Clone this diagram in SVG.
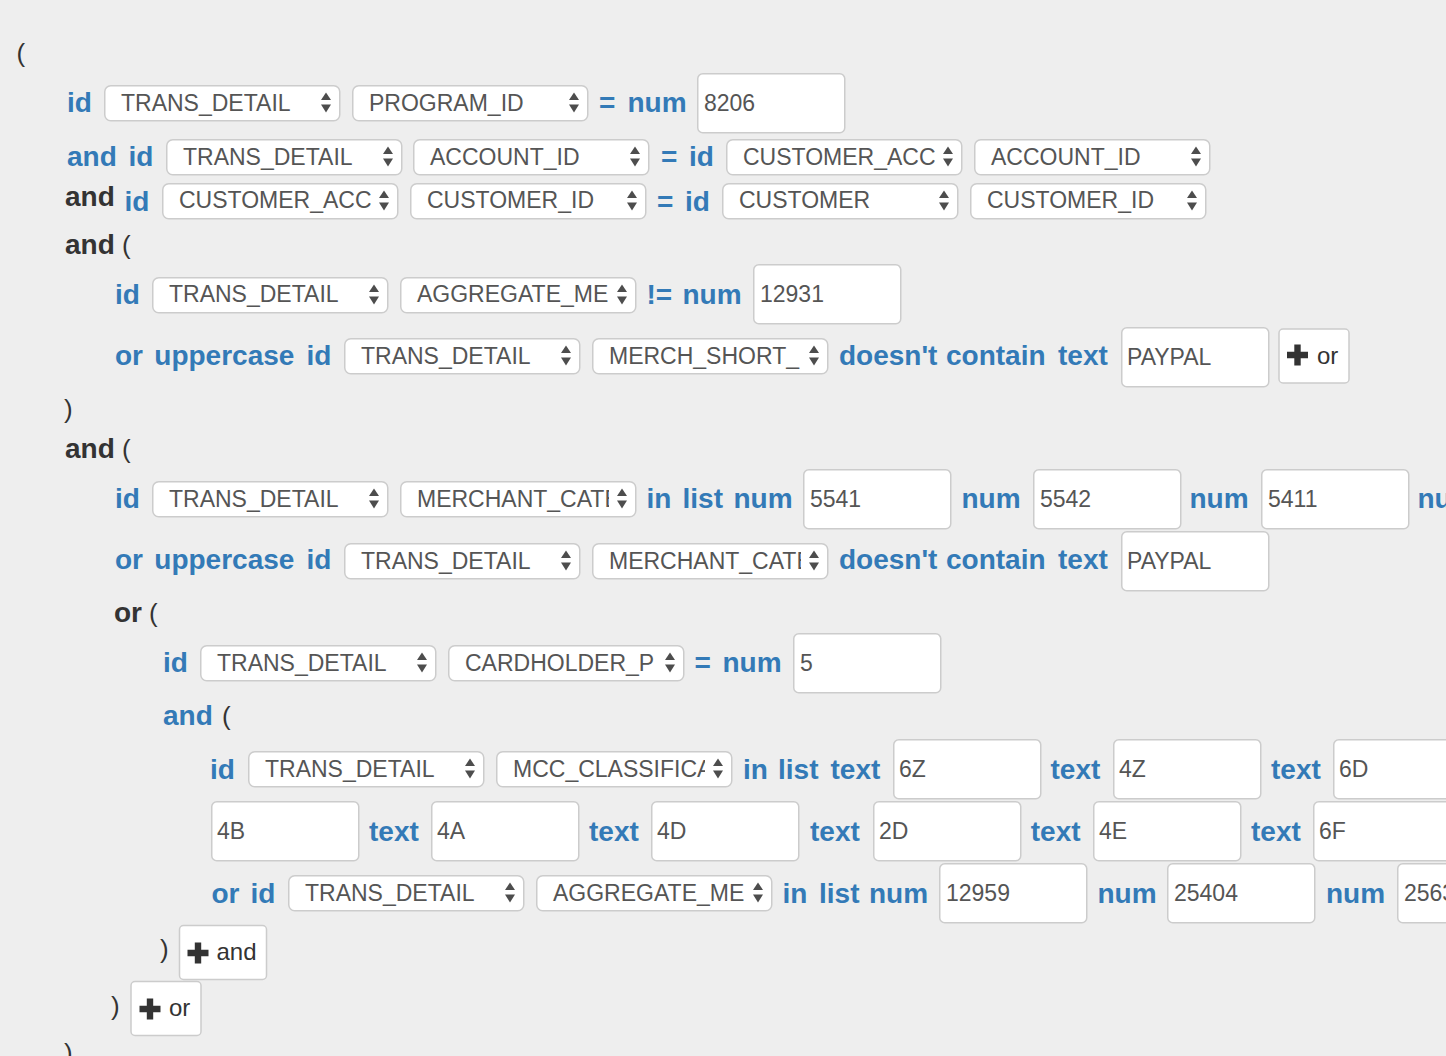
<svg xmlns="http://www.w3.org/2000/svg" xmlns:xlink="http://www.w3.org/1999/xlink" width="1446" height="1056" viewBox="0 0 1446 1056">
<style>
text{font-family:"Liberation Sans",Arial,Helvetica,sans-serif}
.lb{font-weight:bold;font-size:28px;fill:#337ab7}
.dk{font-weight:bold;font-size:28px;fill:#333}
.pr{font-size:26px;fill:#333}
.st{font-size:23px;fill:#555}
.bt{font-size:24px;fill:#333}
.box{fill:#fff;stroke:#ccc;stroke-width:1.5}
.arr{fill:#4d4d4d}
.plus{fill:#333}
</style>
<defs>
<g id="sel">
<rect class="box" x="0.75" y="0.75" width="235" height="35" rx="6"/>
<polygon class="arr" points="217,15 227,15 222,7.6"/>
<polygon class="arr" points="217,19.5 227,19.5 222,27.4"/>
</g>
<rect id="inp" class="box" x="0.75" y="0.75" width="147" height="59" rx="5"/>
<clipPath id="selclip"><rect x="0" y="0" width="209" height="36"/></clipPath>
<path id="plusico" class="plus" d="M-3.2,-10.5 H3.2 V-3.2 H10.5 V3.2 H3.2 V10.5 H-3.2 V3.2 H-10.5 V-3.2 H-3.2 Z"/>
</defs>
<rect x="0" y="0" width="1446" height="1056" fill="#eeeeee"/>
<g id="connectors"/>

<text class="pr" x="16.5" y="61.5">(</text>

<g id="row1">
<text class="lb" x="67" y="112">id</text>
<g transform="translate(104,85)"><use href="#sel"/><text class="st" x="17" y="25.5" clip-path="url(#selclip)">TRANS_DETAIL</text></g>
<g transform="translate(352,85)"><use href="#sel"/><text class="st" x="17" y="25.5" clip-path="url(#selclip)">PROGRAM_ID</text></g>
<text class="lb" x="599" y="112">=</text>
<text class="lb" x="627.5" y="112">num</text>
<g transform="translate(697,73)"><use href="#inp"/><text class="st" x="7" y="37.5">8206</text></g>
</g>

<g id="row2">
<text class="lb" x="67" y="166">and</text>
<text class="lb" x="128.5" y="166">id</text>
<g transform="translate(166,139)"><use href="#sel"/><text class="st" x="17" y="25.5" clip-path="url(#selclip)">TRANS_DETAIL</text></g>
<g transform="translate(413,139)"><use href="#sel"/><text class="st" x="17" y="25.5" clip-path="url(#selclip)">ACCOUNT_ID</text></g>
<text class="lb" x="661" y="166">=</text>
<text class="lb" x="689" y="166">id</text>
<g transform="translate(726,139)"><use href="#sel"/><text class="st" x="17" y="25.5" clip-path="url(#selclip)">CUSTOMER_ACC</text></g>
<g transform="translate(974,139)"><use href="#sel"/><text class="st" x="17" y="25.5" clip-path="url(#selclip)">ACCOUNT_ID</text></g>
</g>

<g id="row3">
<text class="dk" x="65" y="206">and</text>
<text class="lb" x="124.5" y="211">id</text>
<g transform="translate(162,183)"><use href="#sel"/><text class="st" x="17" y="24.5" clip-path="url(#selclip)">CUSTOMER_ACC</text></g>
<g transform="translate(410,183)"><use href="#sel"/><text class="st" x="17" y="24.5" clip-path="url(#selclip)">CUSTOMER_ID</text></g>
<text class="lb" x="657" y="211">=</text>
<text class="lb" x="685" y="211">id</text>
<g transform="translate(722,183)"><use href="#sel"/><text class="st" x="17" y="24.5" clip-path="url(#selclip)">CUSTOMER</text></g>
<g transform="translate(970,183)"><use href="#sel"/><text class="st" x="17" y="24.5" clip-path="url(#selclip)">CUSTOMER_ID</text></g>
</g>

<g id="group1-open">
<text class="dk" x="65" y="254">and</text>
<text class="pr" x="122" y="254">(</text>
</g>

<g id="row5">
<text class="lb" x="115" y="304">id</text>
<g transform="translate(152,277)"><use href="#sel"/><text class="st" x="17" y="25" clip-path="url(#selclip)">TRANS_DETAIL</text></g>
<g transform="translate(400,277)"><use href="#sel"/><text class="st" x="17" y="25" clip-path="url(#selclip)">AGGREGATE_ME</text></g>
<text class="lb" x="646.5" y="304">!=</text>
<text class="lb" x="682.5" y="304">num</text>
<g transform="translate(753,264)"><use href="#inp"/><text class="st" x="7" y="37.5">12931</text></g>
</g>

<g id="row6">
<text class="lb" x="115" y="365">or</text>
<text class="lb" x="154.3" y="365">uppercase</text>
<text class="lb" x="306.5" y="365">id</text>
<g transform="translate(344,338)"><use href="#sel"/><text class="st" x="17" y="25.5" clip-path="url(#selclip)">TRANS_DETAIL</text></g>
<g transform="translate(592,338)"><use href="#sel"/><text class="st" x="17" y="25.5" clip-path="url(#selclip)">MERCH_SHORT_</text></g>
<text class="lb" x="839" y="365">doesn't</text>
<text class="lb" x="946" y="365">contain</text>
<text class="lb" x="1058" y="365">text</text>
<g transform="translate(1121,327)"><use href="#inp"/><text class="st" x="6" y="37.5">PAYPAL</text></g>
<g id="btn-or-1"><rect class="box" x="1279" y="329" width="70" height="54" rx="4"/><use href="#plusico" x="1297.5" y="355"/><text class="bt" x="1317" y="364">or</text></g>
</g>

<text class="pr" x="64" y="417.5">)</text>

<g id="group2-open">
<text class="dk" x="65" y="458">and</text>
<text class="pr" x="122" y="458">(</text>
</g>

<g id="row9">
<text class="lb" x="115" y="508">id</text>
<g transform="translate(152,481)"><use href="#sel"/><text class="st" x="17" y="25.5" clip-path="url(#selclip)">TRANS_DETAIL</text></g>
<g transform="translate(400,481)"><use href="#sel"/><text class="st" x="17" y="25.5" clip-path="url(#selclip)">MERCHANT_CATE</text></g>
<text class="lb" x="646.5" y="508">in</text>
<text class="lb" x="682.5" y="508">list</text>
<text class="lb" x="733.5" y="508">num</text>
<g transform="translate(803,469)"><use href="#inp"/><text class="st" x="7" y="37.5">5541</text></g>
<text class="lb" x="961.5" y="508">num</text>
<g transform="translate(1033,469)"><use href="#inp"/><text class="st" x="7" y="37.5">5542</text></g>
<text class="lb" x="1189.5" y="508">num</text>
<g transform="translate(1261,469)"><use href="#inp"/><text class="st" x="7" y="37.5">5411</text></g>
<text class="lb" x="1417.5" y="508">num</text>
</g>

<g id="row10">
<text class="lb" x="115" y="569">or</text>
<text class="lb" x="154.3" y="569">uppercase</text>
<text class="lb" x="306.5" y="569">id</text>
<g transform="translate(344,543)"><use href="#sel"/><text class="st" x="17" y="25.5" clip-path="url(#selclip)">TRANS_DETAIL</text></g>
<g transform="translate(592,543)"><use href="#sel"/><text class="st" x="17" y="25.5" clip-path="url(#selclip)">MERCHANT_CATE</text></g>
<text class="lb" x="839" y="569">doesn't</text>
<text class="lb" x="946" y="569">contain</text>
<text class="lb" x="1058" y="569">text</text>
<g transform="translate(1121,531)"><use href="#inp"/><text class="st" x="6" y="37.5">PAYPAL</text></g>
</g>

<g id="group3-open">
<text class="dk" x="114" y="622">or</text>
<text class="pr" x="149" y="622">(</text>
</g>

<g id="row11">
<text class="lb" x="163" y="672">id</text>
<g transform="translate(200,645)"><use href="#sel"/><text class="st" x="17" y="25.5" clip-path="url(#selclip)">TRANS_DETAIL</text></g>
<g transform="translate(448,645)"><use href="#sel"/><text class="st" x="17" y="25.5" clip-path="url(#selclip)">CARDHOLDER_P</text></g>
<text class="lb" x="694.5" y="672">=</text>
<text class="lb" x="722.5" y="672">num</text>
<g transform="translate(793,633)"><use href="#inp"/><text class="st" x="7" y="37.5">5</text></g>
</g>

<g id="group4-open">
<text class="lb" x="163" y="725">and</text>
<text class="pr" x="222" y="725">(</text>
</g>

<g id="row13">
<text class="lb" x="210" y="779">id</text>
<g transform="translate(248,751)"><use href="#sel"/><text class="st" x="17" y="25.5" clip-path="url(#selclip)">TRANS_DETAIL</text></g>
<g transform="translate(496,751)"><use href="#sel"/><text class="st" x="17" y="25.5" clip-path="url(#selclip)">MCC_CLASSIFICA</text></g>
<text class="lb" x="743" y="779">in</text>
<text class="lb" x="778" y="779">list</text>
<text class="lb" x="830.5" y="779">text</text>
<g transform="translate(893,739)"><use href="#inp"/><text class="st" x="6" y="37.5">6Z</text></g>
<text class="lb" x="1050.5" y="779">text</text>
<g transform="translate(1113,739)"><use href="#inp"/><text class="st" x="6" y="37.5">4Z</text></g>
<text class="lb" x="1271" y="779">text</text>
<g transform="translate(1333,739)"><use href="#inp"/><text class="st" x="6" y="37.5">6D</text></g>
</g>

<g id="row14">
<g transform="translate(211,801)"><use href="#inp"/><text class="st" x="6" y="37.5">4B</text></g>
<text class="lb" x="369" y="841">text</text>
<g transform="translate(431,801)"><use href="#inp"/><text class="st" x="6" y="37.5">4A</text></g>
<text class="lb" x="589" y="841">text</text>
<g transform="translate(651,801)"><use href="#inp"/><text class="st" x="6" y="37.5">4D</text></g>
<text class="lb" x="810" y="841">text</text>
<g transform="translate(873,801)"><use href="#inp"/><text class="st" x="6" y="37.5">2D</text></g>
<text class="lb" x="1030.8" y="841">text</text>
<g transform="translate(1093,801)"><use href="#inp"/><text class="st" x="6" y="37.5">4E</text></g>
<text class="lb" x="1251" y="841">text</text>
<g transform="translate(1313,801)"><use href="#inp"/><text class="st" x="6" y="37.5">6F</text></g>
</g>

<g id="row15">
<text class="lb" x="211.5" y="903">or</text>
<text class="lb" x="250.5" y="903">id</text>
<g transform="translate(288,875)"><use href="#sel"/><text class="st" x="17" y="25.5" clip-path="url(#selclip)">TRANS_DETAIL</text></g>
<g transform="translate(536,875)"><use href="#sel"/><text class="st" x="17" y="25.5" clip-path="url(#selclip)">AGGREGATE_ME</text></g>
<text class="lb" x="782.5" y="903">in</text>
<text class="lb" x="819" y="903">list</text>
<text class="lb" x="869" y="903">num</text>
<g transform="translate(939,863)"><use href="#inp"/><text class="st" x="7" y="37.5">12959</text></g>
<text class="lb" x="1097.5" y="903">num</text>
<g transform="translate(1167,863)"><use href="#inp"/><text class="st" x="7" y="37.5">25404</text></g>
<text class="lb" x="1326" y="903">num</text>
<g transform="translate(1397,863)"><use href="#inp"/><text class="st" x="7" y="37.5">2563</text></g>
</g>

<g id="group4-close">
<text class="pr" x="160" y="957.5">)</text>
<g id="btn-and"><rect class="box" x="179.5" y="925.5" width="87" height="54" rx="4"/><use href="#plusico" x="198" y="953"/><text class="bt" x="216.5" y="960">and</text></g>
</g>

<g id="group3-close">
<text class="pr" x="111" y="1014.5">)</text>
<g id="btn-or-2"><rect class="box" x="131" y="981.5" width="70" height="54" rx="4"/><use href="#plusico" x="150" y="1009"/><text class="bt" x="169" y="1016">or</text></g>
</g>

<text class="pr" x="64" y="1062">)</text>
</svg>
